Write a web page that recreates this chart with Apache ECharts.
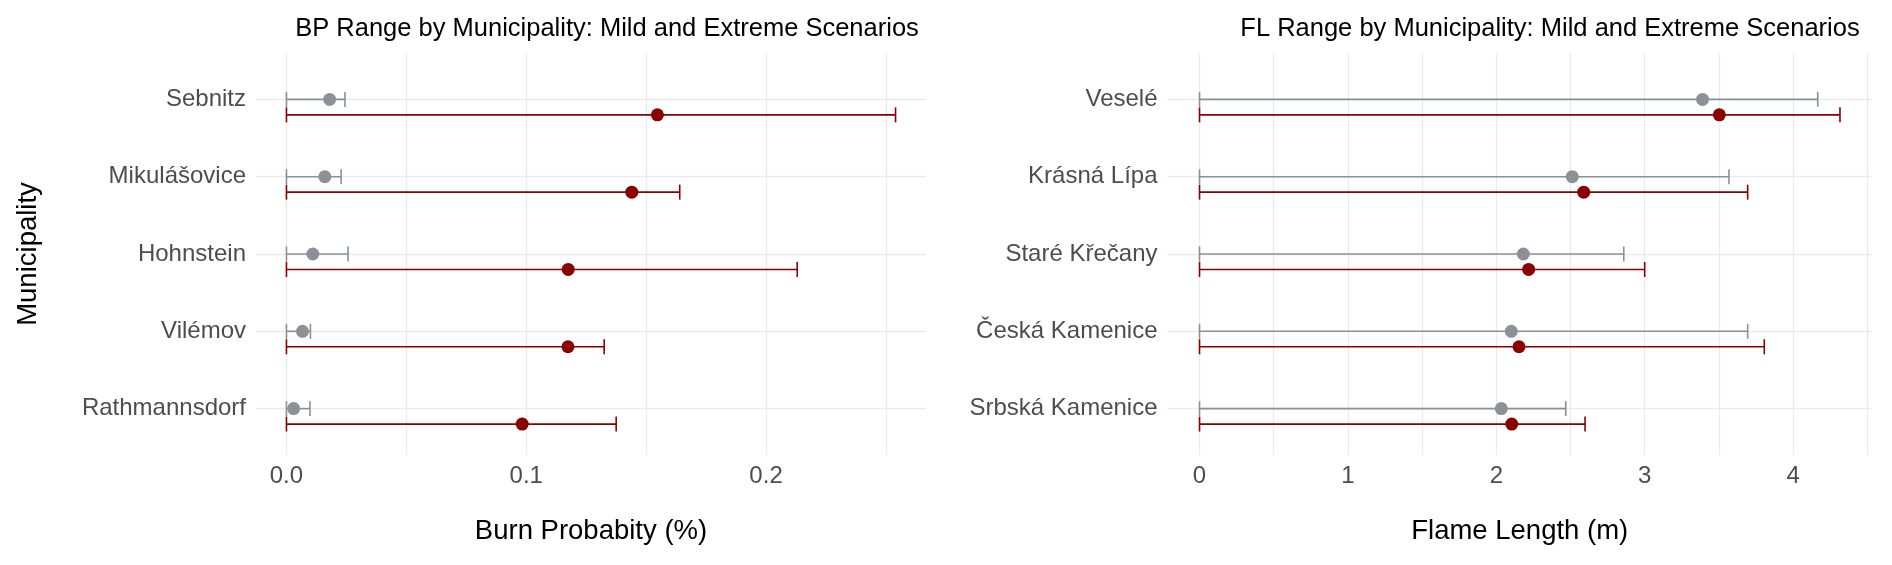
<!DOCTYPE html>
<html>
<head>
<meta charset="utf-8">
<script src="https://cdn.jsdelivr.net/npm/echarts@6/dist/echarts.min.js"></script>
<style>
  html, body { margin: 0; padding: 0; background: #fff; }
  #chart { width: 1892px; height: 565px; }
</style>
</head>
<body>
<div id="chart"></div>
<script>
// 左图: Burn Probability
var bpCategories = ['Sebnitz', 'Mikulášovice', 'Hohnstein', 'Vilémov', 'Rathmannsdorf'];
var bpMildMin = [0, 0, 0, 0, 0];
var bpMildMean = [0.018, 0.016, 0.011, 0.0067, 0.003];
var bpMildMax = [0.0244, 0.0228, 0.0257, 0.0100, 0.0098];
var bpExtremeMin = [0, 0, 0, 0, 0];
var bpExtremeMean = [0.1547, 0.144, 0.1175, 0.1174, 0.0983];
var bpExtremeMax = [0.254, 0.164, 0.213, 0.1325, 0.1375];
var bpTicks = [0, 0.1, 0.2];
var bpGrid = [0, 0.05, 0.1, 0.15, 0.2, 0.25];

// 右图: Flame Length
var flCategories = ['Veselé', 'Krásná Lípa', 'Staré Křečany', 'Česká Kamenice', 'Srbská Kamenice'];
var flMildMin = [0, 0, 0, 0, 0];
var flMildMean = [3.39, 2.512, 2.182, 2.101, 2.034];
var flMildMax = [4.166, 3.568, 2.859, 3.694, 2.468];
var flExtremeMin = [0, 0, 0, 0, 0];
var flExtremeMean = [3.503, 2.589, 2.218, 2.153, 2.104];
var flExtremeMax = [4.316, 3.694, 3.0, 3.806, 2.598];
var flTicks = [0, 1, 2, 3, 4];
var flGrid = [0, 0.5, 1, 1.5, 2, 2.5, 3, 3.5, 4, 4.5];

var FONT = 'Liberation Sans';
var GRAY = '#8b9196';
var RED = '#8b0000';
var DODGE = 0.2;

// 分类位置: 第一个在最上面
function catPos(cats, i) { return cats.length - i; }

function barData(cats, mins, maxs, shift) {
    return cats.map(function (c, i) { return [mins[i], maxs[i], catPos(cats, i) - shift]; });
}
function pointData(cats, means, shift) {
    return cats.map(function (c, i) { return [means[i], catPos(cats, i) - shift]; });
}

function renderBar(color) {
    return function (params, api) {
        var y = api.value(2);
        var p0 = api.coord([api.value(0), y]);
        var p1 = api.coord([api.value(1), y]);
        var h = 7.5;
        var style = { stroke: color, lineWidth: 1.6 };
        return {
            type: 'group',
            children: [
                { type: 'line', shape: { x1: p0[0], y1: p0[1], x2: p1[0], y2: p1[1] }, style: style },
                { type: 'line', shape: { x1: p0[0], y1: p0[1] - h, x2: p0[0], y2: p0[1] + h }, style: style },
                { type: 'line', shape: { x1: p1[0], y1: p1[1] - h, x2: p1[0], y2: p1[1] + h }, style: style }
            ]
        };
    };
}

function xAxis(idx, maxVal, ticks, grid, name, fmt) {
    var pad = 0.05 * maxVal;
    return {
        type: 'value', gridIndex: idx, min: -pad, max: maxVal + pad,
        name: name, nameLocation: 'middle', nameGap: 62,
        nameTextStyle: { fontFamily: FONT, fontSize: 27.5, color: '#000' },
        axisLine: { show: false },
        axisTick: { show: false, customValues: grid },
        axisLabel: { customValues: ticks, margin: 9, fontFamily: FONT, fontSize: 24, color: '#4d4d4d', formatter: fmt },
        splitLine: { show: true, lineStyle: { color: '#ebebeb', width: 1.3 } }
    };
}

function yAxis(idx, cats, name) {
    var vals = cats.map(function (c, i) { return catPos(cats, i); });
    return {
        type: 'value', gridIndex: idx, min: 0.4, max: cats.length + 0.6,
        name: name, nameLocation: 'middle', nameGap: 214,
        nameTextStyle: { fontFamily: FONT, fontSize: 27.5, color: '#000' },
        axisLine: { show: false },
        axisTick: { show: false, customValues: vals },
        axisLabel: {
            customValues: vals, margin: 10, fontFamily: FONT, fontSize: 24, color: '#4d4d4d',
            formatter: function (v) { return cats[cats.length - Math.round(v)]; }
        },
        splitLine: { show: true, lineStyle: { color: '#ebebeb', width: 1.3 } }
    };
}

var bpMax = Math.max.apply(null, bpExtremeMax.concat(bpMildMax));
var flMax = Math.max.apply(null, flExtremeMax.concat(flMildMax));

var myChart = echarts.init(document.getElementById('chart'));
var option = {
    backgroundColor: '#fff',
    animation: false,
    title: [
        { text: 'BP Range by Municipality: Mild and Extreme Scenarios', left: 607, top: 16, textAlign: 'center', padding: 0,
          textStyle: { fontFamily: FONT, fontSize: 25.5, fontWeight: 'normal', color: '#000' } },
        { text: 'FL Range by Municipality: Mild and Extreme Scenarios', left: 1550, top: 16, textAlign: 'center', padding: 0,
          textStyle: { fontFamily: FONT, fontSize: 25.5, fontWeight: 'normal', color: '#000' } }
    ],
    grid: [
        { left: 256, top: 53, width: 670, height: 402 },
        { left: 1167.5, top: 53, width: 704.5, height: 402 }
    ],
    xAxis: [
        xAxis(0, bpMax, bpTicks, bpGrid, 'Burn Probabity (%)', function (v) { return v.toFixed(1); }),
        xAxis(1, flMax, flTicks, flGrid, 'Flame Length (m)', function (v) { return String(v); })
    ],
    yAxis: [
        yAxis(0, bpCategories, 'Municipality'),
        yAxis(1, flCategories, '')
    ],
    series: [
        { type: 'custom', xAxisIndex: 0, yAxisIndex: 0, renderItem: renderBar(GRAY), data: barData(bpCategories, bpMildMin, bpMildMax, 0) },
        { type: 'custom', xAxisIndex: 0, yAxisIndex: 0, renderItem: renderBar(RED), data: barData(bpCategories, bpExtremeMin, bpExtremeMax, DODGE) },
        { type: 'scatter', xAxisIndex: 0, yAxisIndex: 0, symbolSize: 13, itemStyle: { color: GRAY, opacity: 1 }, data: pointData(bpCategories, bpMildMean, 0), z: 5 },
        { type: 'scatter', xAxisIndex: 0, yAxisIndex: 0, symbolSize: 13, itemStyle: { color: RED, opacity: 1 }, data: pointData(bpCategories, bpExtremeMean, DODGE), z: 5 },
        { type: 'custom', xAxisIndex: 1, yAxisIndex: 1, renderItem: renderBar(GRAY), data: barData(flCategories, flMildMin, flMildMax, 0) },
        { type: 'custom', xAxisIndex: 1, yAxisIndex: 1, renderItem: renderBar(RED), data: barData(flCategories, flExtremeMin, flExtremeMax, DODGE) },
        { type: 'scatter', xAxisIndex: 1, yAxisIndex: 1, symbolSize: 13, itemStyle: { color: GRAY, opacity: 1 }, data: pointData(flCategories, flMildMean, 0), z: 5 },
        { type: 'scatter', xAxisIndex: 1, yAxisIndex: 1, symbolSize: 13, itemStyle: { color: RED, opacity: 1 }, data: pointData(flCategories, flExtremeMean, DODGE), z: 5 }
    ]
};
myChart.setOption(option);
</script>
</body>
</html>
